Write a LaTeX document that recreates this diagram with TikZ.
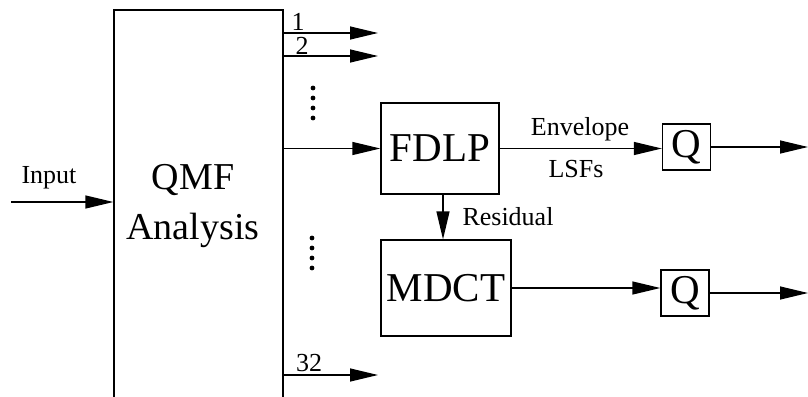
\documentclass[tikz,border=0pt]{standalone}
\usepackage{fontspec}
\setmainfont{Liberation Serif}
\usetikzlibrary{arrows.meta,positioning}
\tikzset{
  >={Triangle[length=28pt,width=13pt]},
  every node/.style={font=\fontsize{26}{30}\selectfont,inner sep=0pt},
  block/.style={draw,line width=1.3pt,font=\fontsize{41}{46}\selectfont,inner sep=0pt},
  qbox/.style={block,minimum width=48pt,minimum height=46pt},
  sig/.style={->,line width=1.3pt},
  lbl/.style={font=\fontsize{26}{30}\selectfont},
}

\begin{document}
\begin{tikzpicture}[x=1pt,y=-1pt]
\clip (0,0) rectangle (808,396);

% analysis bank
\node[block,minimum width=169pt,minimum height=420pt] (qmf) at (198.5,220) {};
\node[font=\fontsize{38}{50}\selectfont,align=center] (qmftext) at (193,206) {QMF\\Analysis};

\coordinate (in) at (11,202);
\draw[sig] (in) -- (in -| qmf.west);
\node[lbl] (inputlbl) at (49,178) {Input};

% subband outputs
\coordinate (o1) at (378,33);
\coordinate (o2) at (378,56);
\coordinate (o32) at (378,375);
\draw[sig] (o1 -| qmf.east) -- (o1);
\draw[sig] (o2 -| qmf.east) -- (o2);
\draw[sig] (o32 -| qmf.east) -- (o32);
\node[lbl] (n1) at (298,22) {1};
\node[lbl] (n2) at (302,46) {2};
\node[lbl] (n32) at (309,363) {32};

\foreach \y in {88,98,108,118} \fill (313,\y) circle (2.4pt);
\foreach \y in {238,248,258,268} \fill (312,\y) circle (2.4pt);

% coding path
\node[block,minimum width=118pt,minimum height=91pt] (fdlp) at (440,148.5) {FDLP};
\node[block,minimum width=130pt,minimum height=96pt] (mdct) at (446,288) {MDCT};
\node[qbox] (q1) at (686.5,147) {Q};
\node[qbox] (q2) at (685,293) {Q};

\draw[sig] (fdlp.west -| qmf.east) -- (fdlp.west);
\draw[sig] (fdlp.east) -- (fdlp.east -| q1.west);
\node[lbl] (envlbl) at (580,129) {Envelope};
\node[lbl] (lsflbl) at (576,169) {LSFs};

\draw[sig] ([xshift=3pt]fdlp.south) -- ([xshift=3pt]fdlp.south |- mdct.north);
\node[lbl] (reslbl) at (508,217) {Residual};

\draw[sig] (mdct.east) -- (mdct.east -| q2.west);

\coordinate (e1) at (808,147);
\coordinate (e2) at (808,293);
\draw[sig] (q1.east) -- (e1);
\draw[sig] (q2.east) -- (e2);

\end{tikzpicture}
\end{document}
